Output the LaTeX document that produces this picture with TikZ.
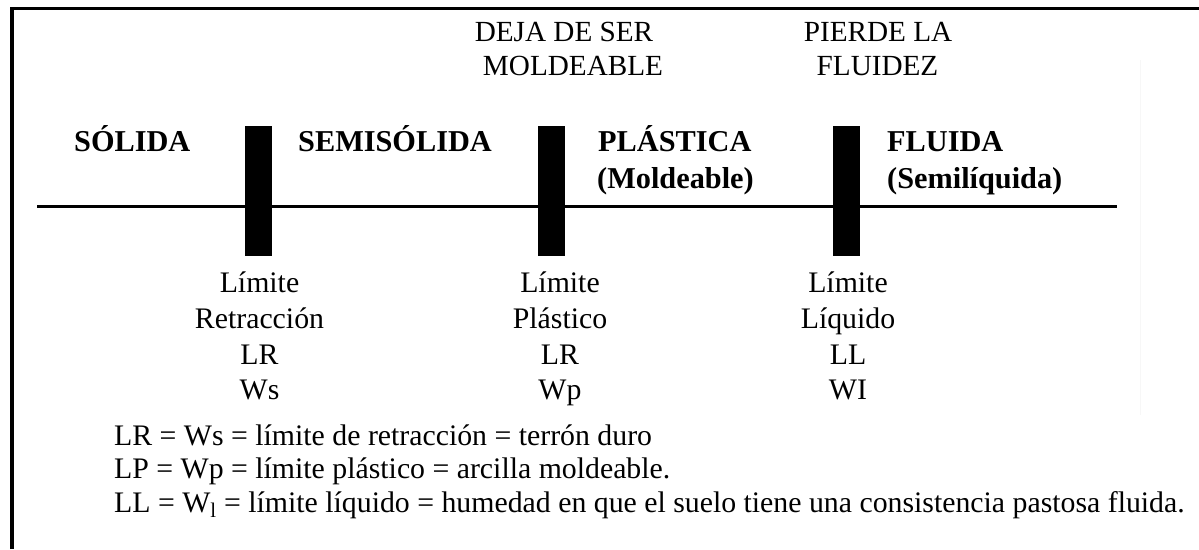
\documentclass[tikz,border=0pt]{standalone}
\usepackage{fontspec}
\setmainfont{Liberation Serif}
\newcommand\myfs[1]{\fontsize{#1}{#1}\selectfont}
\tikzset{
  bar/.style={fill=black, draw=none, minimum width=27pt, minimum height=130pt, inner sep=0pt},
  phase/.style={anchor=base west, inner sep=0pt, font=\myfs{30.3}\bfseries},
  toptxt/.style={anchor=base, inner sep=0pt, font=\myfs{29.2}},
  lbl/.style={anchor=base, inner sep=0pt, font=\myfs{29.8}},
  defn/.style={anchor=base west, inner sep=0pt, font=\myfs{29.8}},
  axis/.style={line width=2.3pt},
  frame/.style={line width=3.6pt, line join=miter}
}
\begin{document}
\begin{tikzpicture}[x=1pt, y=-1pt]
\useasboundingbox (0,0) rectangle (1199,549);
% frame
\coordinate (fBL) at (12,549);
\coordinate (fTL) at (12,8.3);
\coordinate (fTR) at (1199,8.3);
\draw[frame] (fBL) -- (fTL) -- (fTR);
% faint scan edge
\coordinate (gT) at (1140,60);
\coordinate (gB) at (1140,415);
\draw[black!3, line width=0.8pt] (gT) -- (gB);
% axis
\coordinate (axL) at (37,206.6);
\coordinate (axR) at (1117,206.6);
\draw[axis] (axL) -- (axR);
% bars
\node[bar] (b1) at (258.8,191) {};
\node[bar] (b2) at (551,191) {};
\node[bar] (b3) at (846.5,191) {};
% top texts
\node[toptxt] (t1) at (564,41.7) {DEJA DE SER};
\node[toptxt] (t2) at (573,75) {MOLDEABLE};
\node[toptxt] (t3) at (878,41.7) {PIERDE LA};
\node[toptxt] (t4) at (877.5,75) {FLUIDEZ};
% phases
\node[phase] (p1) at (74,151.7) {SÓLIDA};
\node[phase] (p2) at (298,151.7) {SEMISÓLIDA};
\node[phase] (p3) at (598,151.7) {PLÁSTICA};
\node[phase] (p3b) at (597,188) {(Moldeable)};
\node[phase] (p4) at (887,151.7) {FLUIDA};
\node[phase] (p4b) at (887,188) {(Semilíquida)};
% limit labels
\node[lbl] (l1a) at (259.5,292.5) {Límite};
\node[lbl] (l1b) at (259.5,328) {Retracción};
\node[lbl] (l1c) at (259.5,364) {LR};
\node[lbl] (l1d) at (259.5,399.5) {Ws};
\node[lbl] (l2a) at (560,292.5) {Límite};
\node[lbl] (l2b) at (560,328) {Plástico};
\node[lbl] (l2c) at (560,364) {LR};
\node[lbl] (l2d) at (560,399.5) {Wp};
\node[lbl] (l3a) at (848,292.5) {Límite};
\node[lbl] (l3b) at (848,328) {Líquido};
\node[lbl] (l3c) at (848,364) {LL};
\node[lbl] (l3d) at (848,399.5) {WI};
% definitions
\node[defn] (d1) at (114,445) {LR = Ws = límite de retracción = terrón duro};
\node[defn] (d2) at (114,478.5) {LP = Wp = límite plástico = arcilla moldeable.};
\node[defn] (d3) at (114,512) {LL = W\textsubscript{l} = límite líquido = humedad en que el suelo tiene una consistencia pastosa fluida.};
\end{tikzpicture}
\end{document}
